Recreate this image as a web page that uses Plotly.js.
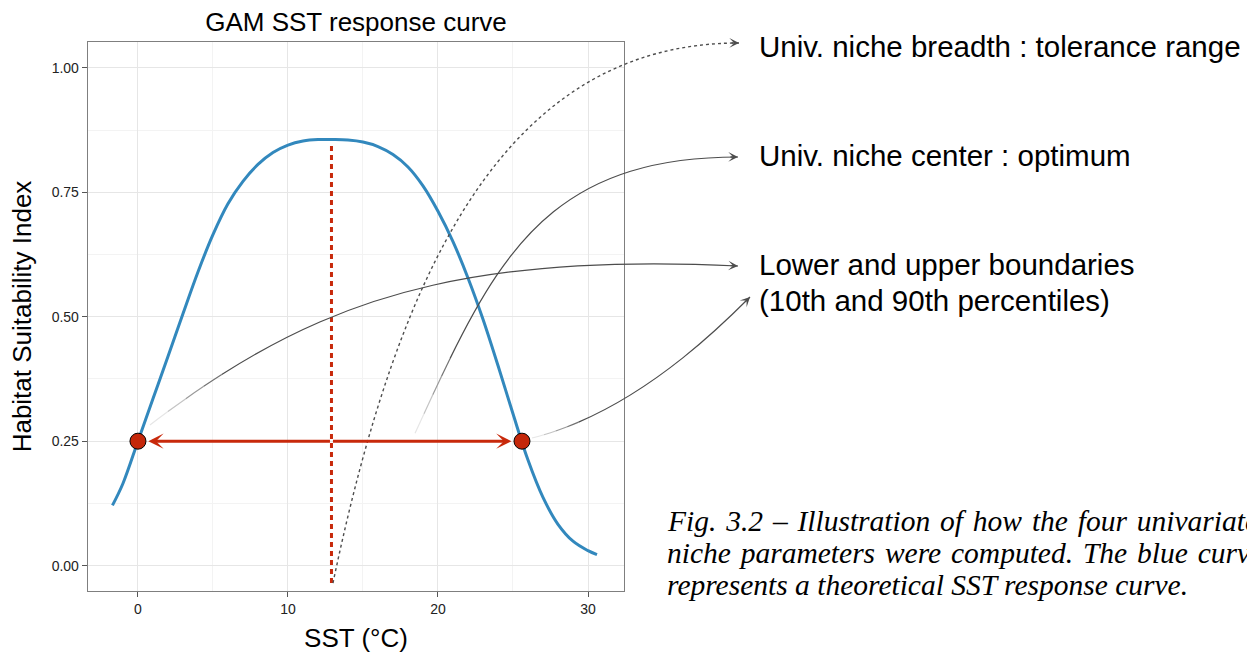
<!DOCTYPE html>
<html><head><meta charset="utf-8">
<script src="https://cdn.plot.ly/plotly-3.0.1.min.js"></script>
<style>html,body{margin:0;padding:0;background:#fff;overflow:hidden}</style>
</head><body>
<div id="chart" style="width:1247px;height:657px"></div>
<script>
// ---- data ----
const sst = [-1.7,-1,0,1,2,3,4,5,6,7,8,9,10,11,12,13,14,15,16,17,18,19,20,21,22,23,24,25,26,27,28,29,30,30.6];
const hsi = [0.121,0.165,0.25,0.335,0.42,0.506,0.59,0.665,0.727,0.772,0.806,0.83,0.845,0.853,0.856,0.856,0.855,0.851,0.842,0.826,0.801,0.763,0.712,0.651,0.578,0.495,0.402,0.305,0.212,0.137,0.083,0.049,0.03,0.022];
const boundarySST = [0, 25.6];
const boundaryHSI = [0.25, 0.25];
const optimumSST = 12.9;
const optimumLineHSI = [-0.035, 0.845];
const arrowTipsSST = [0.69, 24.9];
const xTicks = [0, 10, 20, 30];
const xTickLabels = ['0', '10', '20', '30'];
const xMinor = [5, 15, 25];
const yTicks = [0, 0.25, 0.5, 0.75, 1];
const yTickLabels = ['0.00', '0.25', '0.50', '0.75', '1.00'];
const yMinor = [0.125, 0.375, 0.625, 0.875];
const xRange = [-3.33, 32.4];
const yRange = [-0.051, 1.052];

// connector curves: cubic Bezier control points in chart units (SST, HSI), reaching past the axes
const breadthCurve = [[13.0,-0.035],[17.33,0.588],[24.40,1.050],[40.07,1.050]];
const centerCurve  = [[18.47,0.266],[23.53,0.596],[26.67,0.821],[40.0,0.821]];
const lowerCurve   = [[0.80,0.2825],[10.80,0.5116],[20.0,0.632],[40.0,0.602]];
const upperCurve   = [[26.27,0.2564],[32.93,0.3066],[38.47,0.4694],[40.80,0.5397]];

const labelTexts = ['Univ. niche breadth : tolerance range','Univ. niche center : optimum','Lower and upper boundaries','(10th and 90th percentiles)'];
const J = '\u2004'; // justified (widened) word spacing of the caption
const captionLines = [
  ['Fig.', '3.2', '\u2013', 'Illustration', 'of', 'how', 'the', 'four', 'univariate'].join(J),
  ['niche', 'parameters', 'were', 'computed.', 'The', 'blue', 'curve'].join(J),
  'represents a theoretical SST response curve.'
];

// ---- layout geometry ----
const W = 1247, H = 657;
const M = {l: 88, r: 623, t: 42, b: 66};
const PW = W - M.l - M.r, PH = H - M.t - M.b;
const fx = x => (x - xRange[0]) / (xRange[1] - xRange[0]);
const fy = y => (y - yRange[0]) / (yRange[1] - yRange[0]);
const pxX = px => (px - M.l) / PW;   // page pixel -> paper (text placement)
const pxY = py => (H - M.b - py) / PH;

const lerp = (a, b, t) => [a[0] + (b[0] - a[0]) * t, a[1] + (b[1] - a[1]) * t];
function splitAt(c, t) { // returns [left, right]
  const [p0, p1, p2, p3] = c;
  const a = lerp(p0, p1, t), b = lerp(p1, p2, t), d = lerp(p2, p3, t);
  const e = lerp(a, b, t), f = lerp(b, d, t), g = lerp(e, f, t);
  return [[p0, a, e, g], [g, f, d, p3]];
}
function sub(c, t0, t1) {
  const left = splitAt(c, t1)[0];
  return t0 <= 0 ? left : splitAt(left, t0 / t1)[1];
}
function pathOf(c) {
  const p = c.map(([x, y]) => fx(x) + ',' + fy(y));
  return 'M' + p[0] + ' C' + p[1] + ' ' + p[2] + ' ' + p[3];
}
function headAt(c, color) {
  const a = c[2], b = c[3];
  const dx = (fx(b[0]) - fx(a[0])) * PW, dy = -(fy(b[1]) - fy(a[1])) * PH;
  const L = Math.hypot(dx, dy), len = 9;
  return {xref: 'paper', yref: 'paper', x: fx(b[0]), y: fy(b[1]), text: '', showarrow: true,
    ax: -dx / L * len, ay: -dy / L * len, arrowhead: 3, arrowsize: 1.25, arrowwidth: 1.3, arrowcolor: color};
}

const grey = '#4d4d4d';
const red = '#c8290b';
const shapes = [
  {type: 'path', xref: 'paper', yref: 'paper', path: pathOf(breadthCurve), line: {color: grey, width: 1.4, dash: '3px,3px'}, layer: 'above'}
];
// solid connectors fade in from their start
const fadeSteps = [[0, 0.04, '#e6e6e6'], [0.04, 0.08, '#c4c4c4'], [0.08, 0.12, '#9a9a9a'], [0.12, 0.16, '#727272'], [0.16, 1, grey]];
[centerCurve, lowerCurve, upperCurve].forEach(c => {
  fadeSteps.forEach(([t0, t1, col]) => shapes.push({type: 'path', xref: 'paper', yref: 'paper',
    path: pathOf(sub(c, t0, t1)), line: {color: col, width: 1.2}, layer: 'above'}));
});

const annotations = [
  headAt(breadthCurve, grey), headAt(centerCurve, grey), headAt(lowerCurve, grey), headAt(upperCurve, grey),
  {x: arrowTipsSST[0], y: boundaryHSI[0], ax: optimumSST, ay: boundaryHSI[0], axref: 'x', ayref: 'y', xref: 'x', yref: 'y',
   text: '', showarrow: true, arrowhead: 3, arrowsize: 0.85, arrowwidth: 3, arrowcolor: red},
  {x: arrowTipsSST[1], y: boundaryHSI[1], ax: optimumSST, ay: boundaryHSI[1], axref: 'x', ayref: 'y', xref: 'x', yref: 'y',
   text: '', showarrow: true, arrowhead: 3, arrowsize: 0.85, arrowwidth: 3, arrowcolor: red}
];
const labelY = [47, 155, 264, 300];
labelTexts.forEach((t, i) => annotations.push({xref: 'paper', yref: 'paper', x: pxX(757), y: pxY(labelY[i]),
  xanchor: 'left', yanchor: 'middle', text: t, showarrow: false,
  font: {family: 'Liberation Sans, Arial, sans-serif', size: 29.5, color: '#000'}}));
const capY = [521, 553, 585];
captionLines.forEach((t, i) => annotations.push({xref: 'paper', yref: 'paper', x: pxX(665), y: pxY(capY[i]),
  xanchor: 'left', yanchor: 'middle', text: '<i>' + t + '</i>', showarrow: false,
  font: {family: 'Liberation Serif, Times New Roman, serif', size: 29.5, color: '#000'}}));

const traces = [
  {type: 'scatter', mode: 'lines', x: sst, y: hsi, line: {color: '#3288bd', width: 3, shape: 'spline', smoothing: 1}, hoverinfo: 'skip'},
  {type: 'scatter', mode: 'lines', x: [optimumSST, optimumSST], y: optimumLineHSI, line: {color: red, width: 3, dash: '5px,4px'}, hoverinfo: 'skip'},
  {type: 'scatter', mode: 'markers', x: boundarySST, y: boundaryHSI, marker: {size: 16, color: '#c4270a', line: {color: '#000', width: 1}}, cliponaxis: false, hoverinfo: 'skip'}
];

const axisCommon = {
  ticks: 'outside', ticklen: 5, tickwidth: 1, tickcolor: '#555',
  tickfont: {size: 14, color: '#222'},
  showline: true, linecolor: '#7f7f7f', linewidth: 1.3, mirror: true,
  showgrid: true, gridcolor: '#e6e6e6', gridwidth: 1, zeroline: false, fixedrange: true
};
const layout = {
  width: W, height: H, margin: M, showlegend: false,
  paper_bgcolor: '#fff', plot_bgcolor: '#fff',
  font: {family: 'Liberation Sans, Arial, sans-serif', color: '#000'},
  title: {text: 'GAM SST response curve', font: {size: 26, color: '#000'}, x: 0.5, xref: 'paper', xanchor: 'center',
          y: 1 - 22 / H, yref: 'container', yanchor: 'middle'},
  xaxis: Object.assign({}, axisCommon, {range: xRange, tickmode: 'array', tickvals: xTicks, ticktext: xTickLabels,
    minor: {tickmode: 'array', tickvals: xMinor, showgrid: true, gridcolor: '#f3f3f3', gridwidth: 1, ticks: ''},
    title: {text: 'SST (°C)', font: {size: 26, color: '#000'}, standoff: 12}}),
  yaxis: Object.assign({}, axisCommon, {range: yRange, tickmode: 'array', tickvals: yTicks, ticktext: yTickLabels,
    minor: {tickmode: 'array', tickvals: yMinor, showgrid: true, gridcolor: '#f3f3f3', gridwidth: 1, ticks: ''},
    title: {text: 'Habitat Suitability Index', font: {size: 26, color: '#000'}, standoff: 12}}),
  shapes: shapes, annotations: annotations
};
Plotly.newPlot('chart', traces, layout, {displayModeBar: false, staticPlot: true});
</script>
</body></html>
